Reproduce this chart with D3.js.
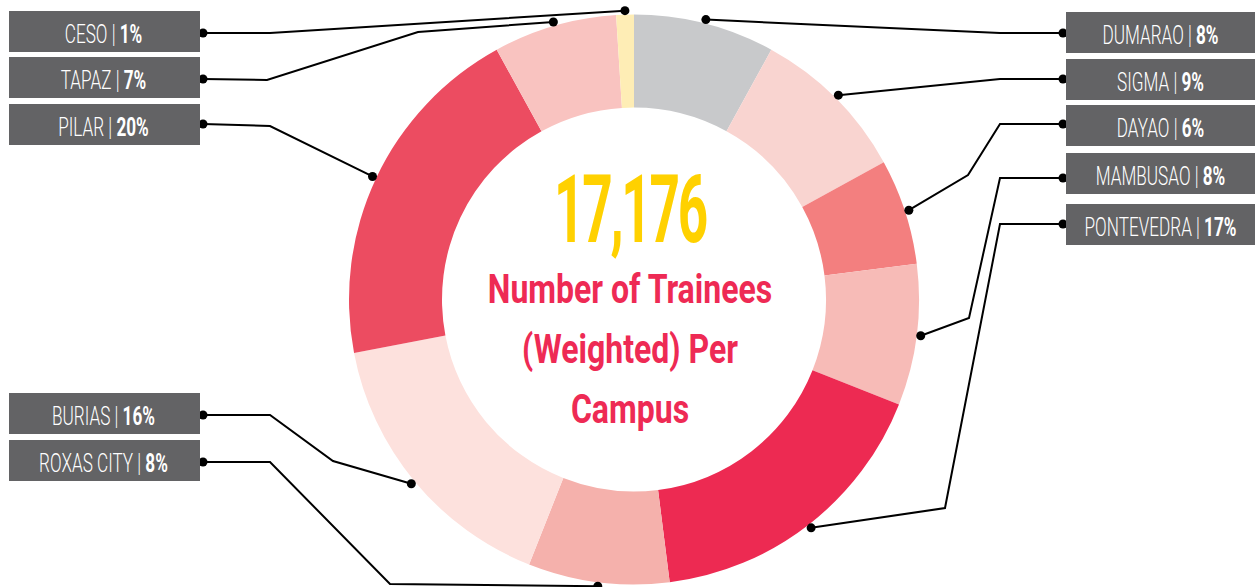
<!DOCTYPE html>
<html>
<head>
<meta charset="utf-8">
<script src="https://cdn.jsdelivr.net/npm/d3@7"></script>
<style>
  html, body { margin: 0; padding: 0; background: #fff; }
  svg { display: block; }
</style>
</head>
<body>
<svg id="chart" width="1255" height="587"></svg>
<script>
// ---- data ----
const campuses = ["DUMARAO", "SIGMA", "DAYAO", "MAMBUSAO", "PONTEVEDRA", "ROXAS CITY", "BURIAS", "PILAR", "TAPAZ", "CESO"];
const shares = [8, 9, 6, 8, 17, 8, 16, 20, 7, 1];
const totalTrainees = 17176;
const titleLines = ["Number of Trainees", "(Weighted) Per", "Campus"];

// ---- styling ----
const sliceColors = ["#c8c9cb", "#f9d4d0", "#f37f7f", "#f7bbb7", "#ed2a52", "#f5b1ac", "#fde1dd", "#ec4c61", "#f9c3c0", "#feedb5"];
const boxFill = "#636365";

// ---- layout ----
const cx = 634, cy = 299.5, outerR = 285, innerR = 192, dotR = 289;
const boxW = 191, boxH = 41;
// label box anchor (left/right side, top y) and leader elbows for each campus
const labelLayout = {
  "DUMARAO":    { side: "right", top: 12,  dotY: 33,  elbows: [[1000, 33]] },
  "SIGMA":      { side: "right", top: 59,  dotY: 79,  elbows: [[1000, 79]] },
  "DAYAO":      { side: "right", top: 105, dotY: 124, elbows: [[1000, 124], [968, 175]] },
  "MAMBUSAO":   { side: "right", top: 153, dotY: 178, elbows: [[1000, 178], [969, 318]] },
  "PONTEVEDRA": { side: "right", top: 204, dotY: 224, elbows: [[1000, 224], [945, 508]] },
  "ROXAS CITY": { side: "left",  top: 440, dotY: 462, elbows: [[270, 462], [390, 584]] },
  "BURIAS":     { side: "left",  top: 393, dotY: 415, elbows: [[270, 415], [333, 461]] },
  "PILAR":      { side: "left",  top: 104, dotY: 124, elbows: [[270, 126]] },
  "TAPAZ":      { side: "left",  top: 57,  dotY: 79,  elbows: [[267, 80], [418, 32]] },
  "CESO":       { side: "left",  top: 11,  dotY: 33,  elbows: [[270, 33]] }
};
const leftBoxX = 9, rightBoxX = 1066, leftDotX = 203, rightDotX = 1063;

const svg = d3.select("#chart");

const color = d3.scaleOrdinal().domain(campuses).range(sliceColors);

const records = campuses.map((c, i) => ({ name: c, share: shares[i] }));

const pie = d3.pie().value(d => d.share).sort(null).startAngle(0).endAngle(2 * Math.PI);
const arcs = pie(records);

const arc = d3.arc().innerRadius(innerR).outerRadius(outerR);
const edgeArc = d3.arc().innerRadius(dotR).outerRadius(dotR);

const ring = svg.append("g").attr("transform", `translate(${cx},${cy})`);
ring.selectAll("path.slice")
  .data(arcs)
  .join("path")
  .attr("class", "slice")
  .attr("d", arc)
  .attr("fill", d => color(d.data.name));

// ---- leader lines ----
const leaders = svg.append("g");
const line = d3.line();
arcs.forEach(d => {
  const L = labelLayout[d.data.name];
  const c = edgeArc.centroid(d);
  const sliceDot = [cx + c[0], cy + c[1]];
  const labelDot = [L.side === "left" ? leftDotX : rightDotX, L.dotY];
  const pts = [labelDot, ...L.elbows, sliceDot];
  leaders.append("path")
    .attr("d", line(pts))
    .attr("fill", "none")
    .attr("stroke", "#000")
    .attr("stroke-width", 2)
    .attr("stroke-linejoin", "miter");
  leaders.append("circle").attr("cx", labelDot[0]).attr("cy", labelDot[1]).attr("r", 4.5).attr("fill", "#000");
  leaders.append("circle").attr("cx", sliceDot[0]).attr("cy", sliceDot[1]).attr("r", 4.5).attr("fill", "#000");
});

// ---- label boxes ----
const labels = svg.append("g");
arcs.forEach(d => {
  const L = labelLayout[d.data.name];
  const x = L.side === "left" ? leftBoxX : rightBoxX;
  labels.append("rect")
    .attr("x", x).attr("y", L.top)
    .attr("width", boxW).attr("height", boxH)
    .attr("fill", boxFill);
  const t = labels.append("text")
    .attr("transform", `translate(${x + boxW / 2 - 1},${L.top + 32}) scale(0.66,1)`)
    .attr("text-anchor", "middle")
    .attr("font-family", "Roboto, 'Liberation Sans', sans-serif")
    .attr("font-size", 26)
    .attr("fill", "#fff");
  t.append("tspan").attr("font-weight", 300).text(d.data.name + "\u00a0");
  t.append("tspan").attr("font-weight", 300).text("|");
  t.append("tspan").attr("font-weight", 700).text("\u00a0" + d.data.share + "%");
});

// ---- centre text ----
const centre = svg.append("g");
centre.append("text")
  .attr("transform", `translate(630,242) scale(0.565,1)`)
  .attr("text-anchor", "middle")
  .attr("font-family", "Roboto, 'Liberation Sans', sans-serif")
  .attr("font-weight", 700)
  .attr("font-size", 94)
  .attr("letter-spacing", -4)
  .attr("fill", "#ffd100")
  .text(d3.format(",")(totalTrainees));

titleLines.forEach((s, i) => {
  centre.append("text")
    .attr("transform", `translate(630,${303 + i * 60}) scale(0.8,1)`)
    .attr("text-anchor", "middle")
    .attr("font-family", "Roboto, 'Liberation Sans', sans-serif")
    .attr("font-weight", 700)
    .attr("font-size", 40)
    .attr("fill", "#ee2a54")
    .text(s);
});
</script>
</body>
</html>
